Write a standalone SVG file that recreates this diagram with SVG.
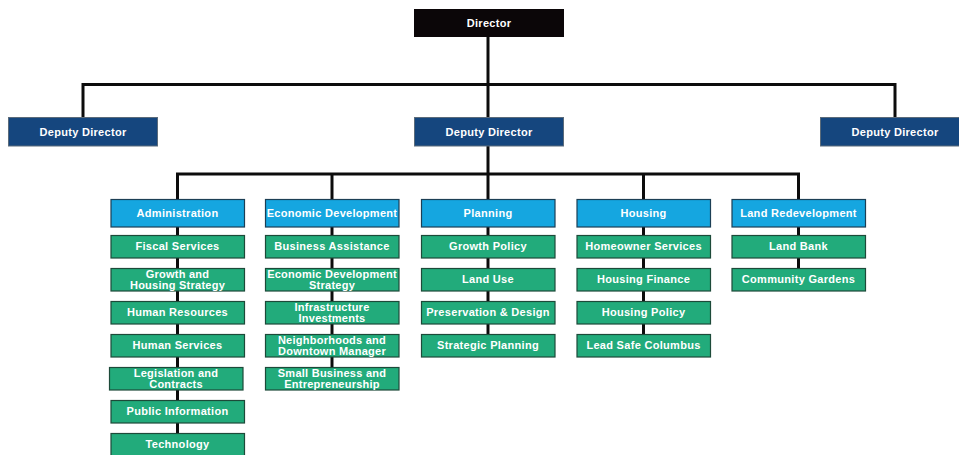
<svg xmlns="http://www.w3.org/2000/svg" width="959" height="455" viewBox="0 0 959 455">
<style>
  .conn { fill: none; stroke: #0c0c0c; stroke-width: 3; stroke-linejoin: miter; stroke-linecap: butt; }
  .dir { fill: #0b0608; }
  .dep { fill: #15467e; stroke: #5b6b7a; stroke-width: 1; }
  .hdr { fill: #15a6e0; stroke: #1c3f55; stroke-width: 1.2; }
  .itm { fill: #22ab7b; stroke: #1d4a39; stroke-width: 1.2; }
  text { font-family: "Liberation Sans", Arial, sans-serif; font-weight: bold; font-size: 11px; fill: #ffffff; text-anchor: middle; letter-spacing: 0.3px; }
  .two { font-size: 11px; letter-spacing: 0.25px; }
</style>
<rect width="959" height="455" fill="#ffffff"/>
<g id="connectors">
  <path class="conn" d="M488 37 V199"/>
  <path class="conn" d="M83 117 V84.5 H895 V117"/>
  <path class="conn" d="M177.5 199 V174 H798.5 V199"/>
  <path class="conn" d="M332 174 V199"/>
  <path class="conn" d="M643.5 174 V199"/>
  <path class="conn" d="M177.5 227 V433"/>
  <path class="conn" d="M332 227 V367"/>
  <path class="conn" d="M488 227 V334"/>
  <path class="conn" d="M643.5 227 V334"/>
  <path class="conn" d="M798.5 227 V268"/>
</g>
<g id="director"><rect class="dir" x="414" y="9" width="150" height="28"/><text x="489" y="27">Director</text></g>
<g id="deputy-left"><rect class="dep" x="8.5" y="117.5" width="149" height="28.5"/><text x="83" y="135.5">Deputy Director</text></g>
<g id="deputy-center"><rect class="dep" x="414.5" y="117.5" width="149" height="28.5"/><text x="489" y="135.5">Deputy Director</text></g>
<g id="deputy-right"><rect class="dep" x="820.5" y="117.5" width="149" height="28.5"/><text x="895" y="135.5">Deputy Director</text></g>

<g id="administration"><rect class="hdr" x="111" y="199.5" width="133.5" height="27.5"/><text x="177.5" y="217">Administration</text></g>
<g id="economic-development"><rect class="hdr" x="265.5" y="199.5" width="133.5" height="27.5"/><text x="332" y="217">Economic Development</text></g>
<g id="planning"><rect class="hdr" x="421.5" y="199.5" width="133.5" height="27.5"/><text x="488" y="217">Planning</text></g>
<g id="housing"><rect class="hdr" x="577" y="199.5" width="133.5" height="27.5"/><text x="643.5" y="217">Housing</text></g>
<g id="land-redevelopment"><rect class="hdr" x="732" y="199.5" width="133.5" height="27.5"/><text x="798.5" y="217">Land Redevelopment</text></g>

<g id="fiscal-services"><rect class="itm" x="111" y="235.5" width="133.5" height="22.5"/><text x="177.5" y="250">Fiscal Services</text></g>
<g id="growth-housing-strategy"><rect class="itm" x="111" y="268.5" width="133.5" height="22.5"/><text class="two" x="177.5" y="278">Growth and</text><text class="two" x="177.5" y="288.5">Housing Strategy</text></g>
<g id="human-resources"><rect class="itm" x="111" y="301.5" width="133.5" height="22.5"/><text x="177.5" y="316">Human Resources</text></g>
<g id="human-services"><rect class="itm" x="111" y="334.5" width="133.5" height="22.5"/><text x="177.5" y="349">Human Services</text></g>
<g id="legislation-contracts"><rect class="itm" x="109.5" y="367.5" width="133.5" height="22.5"/><text class="two" x="176" y="377">Legislation and</text><text class="two" x="176" y="387.5">Contracts</text></g>
<g id="public-information"><rect class="itm" x="111" y="400.5" width="133.5" height="22.5"/><text x="177.5" y="415">Public Information</text></g>
<g id="technology"><rect class="itm" x="111" y="433.5" width="133.5" height="22.5"/><text x="177.5" y="448">Technology</text></g>

<g id="business-assistance"><rect class="itm" x="265.5" y="235.5" width="133.5" height="22.5"/><text x="332" y="250">Business Assistance</text></g>
<g id="econ-dev-strategy"><rect class="itm" x="265.5" y="268.5" width="133.5" height="22.5"/><text class="two" x="332" y="278">Economic Development</text><text class="two" x="332" y="288.5">Strategy</text></g>
<g id="infrastructure-investments"><rect class="itm" x="265.5" y="301.5" width="133.5" height="22.5"/><text class="two" x="332" y="311">Infrastructure</text><text class="two" x="332" y="321.5">Investments</text></g>
<g id="neighborhoods-downtown"><rect class="itm" x="265.5" y="334.5" width="133.5" height="22.5"/><text class="two" x="332" y="344">Neighborhoods and</text><text class="two" x="332" y="354.5">Downtown Manager</text></g>
<g id="small-business"><rect class="itm" x="265.5" y="367.5" width="133.5" height="22.5"/><text class="two" x="332" y="377">Small Business and</text><text class="two" x="332" y="387.5">Entrepreneurship</text></g>

<g id="growth-policy"><rect class="itm" x="421.5" y="235.5" width="133.5" height="22.5"/><text x="488" y="250">Growth Policy</text></g>
<g id="land-use"><rect class="itm" x="421.5" y="268.5" width="133.5" height="22.5"/><text x="488" y="283">Land Use</text></g>
<g id="preservation-design"><rect class="itm" x="421.5" y="301.5" width="133.5" height="22.5"/><text x="488" y="316">Preservation &amp; Design</text></g>
<g id="strategic-planning"><rect class="itm" x="421.5" y="334.5" width="133.5" height="22.5"/><text x="488" y="349">Strategic Planning</text></g>

<g id="homeowner-services"><rect class="itm" x="577" y="235.5" width="133.5" height="22.5"/><text x="643.5" y="250">Homeowner Services</text></g>
<g id="housing-finance"><rect class="itm" x="577" y="268.5" width="133.5" height="22.5"/><text x="643.5" y="283">Housing Finance</text></g>
<g id="housing-policy"><rect class="itm" x="577" y="301.5" width="133.5" height="22.5"/><text x="643.5" y="316">Housing Policy</text></g>
<g id="lead-safe-columbus"><rect class="itm" x="577" y="334.5" width="133.5" height="22.5"/><text x="643.5" y="349">Lead Safe Columbus</text></g>

<g id="land-bank"><rect class="itm" x="732" y="235.5" width="133.5" height="22.5"/><text x="798.5" y="250">Land Bank</text></g>
<g id="community-gardens"><rect class="itm" x="732" y="268.5" width="133.5" height="22.5"/><text x="798.5" y="283">Community Gardens</text></g>
</svg>
